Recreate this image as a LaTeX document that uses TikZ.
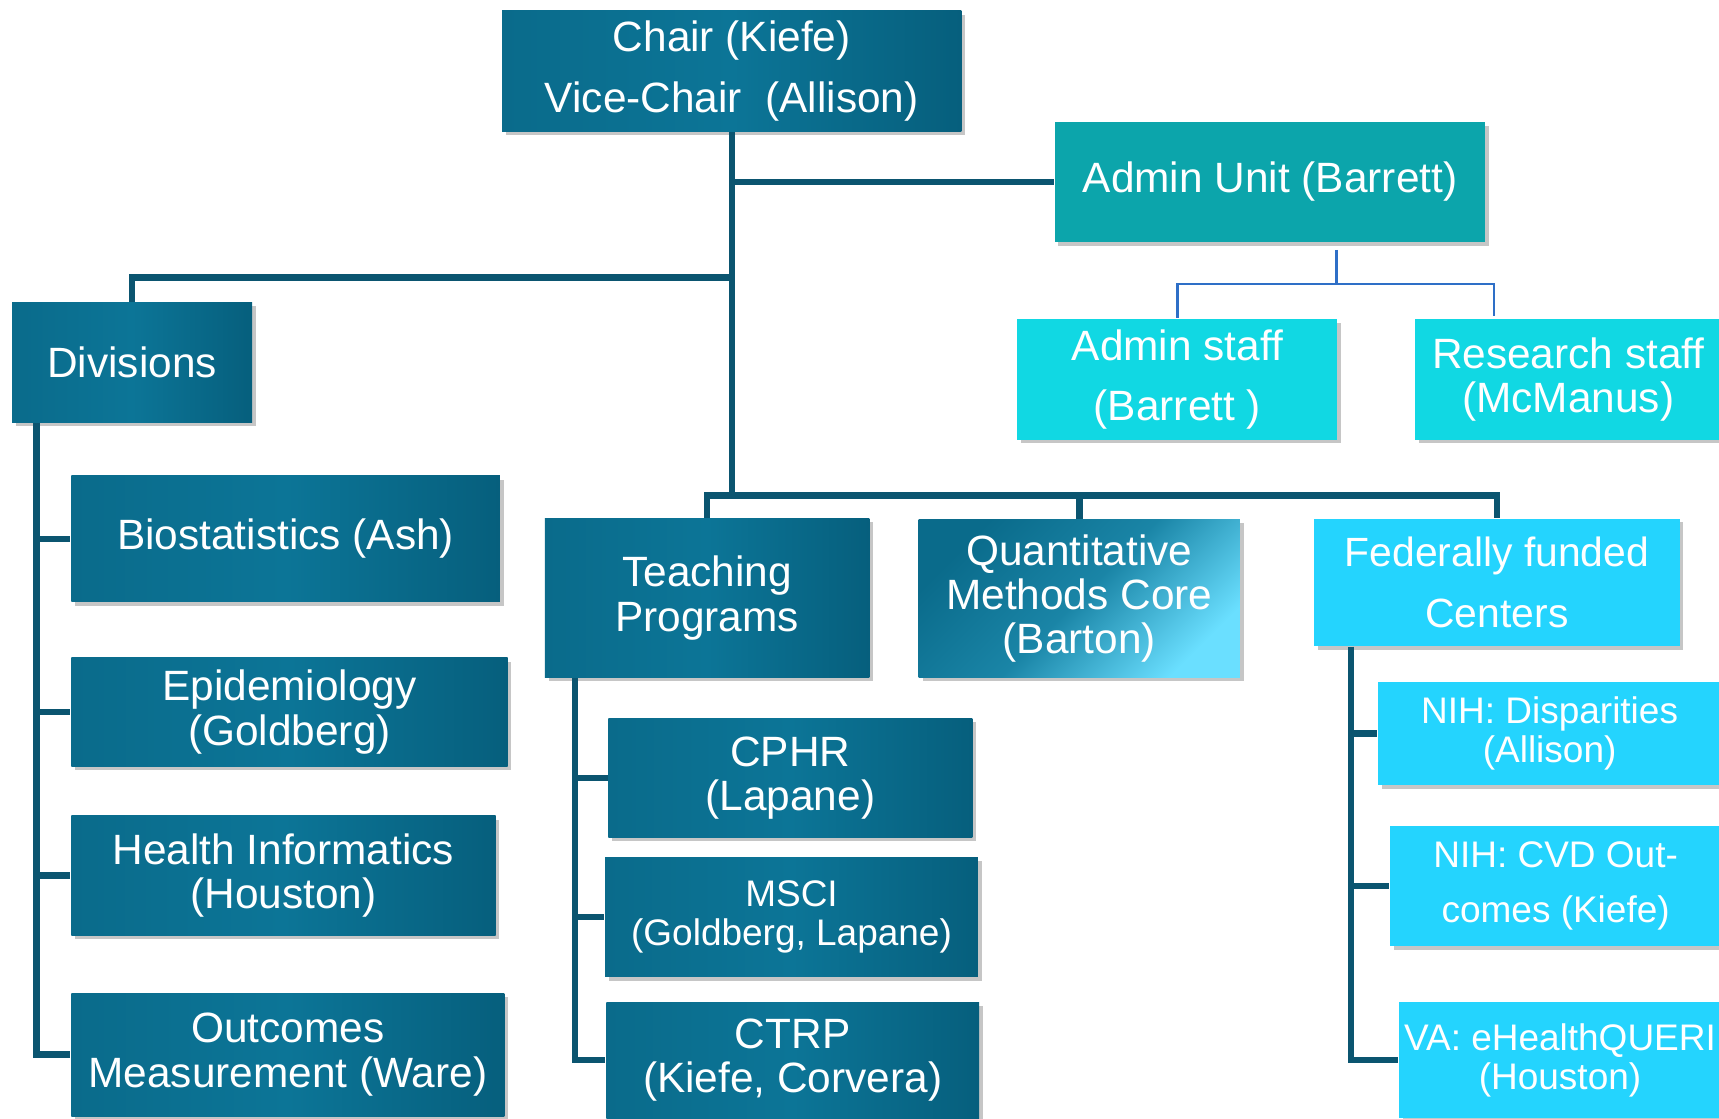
\documentclass[tikz,border=0pt]{standalone}
\usepackage{fontspec}
\setmainfont{Liberation Sans}
\usepackage{tikz}
\usetikzlibrary{shadows}

\definecolor{darkleft}{HTML}{0A6B8B}
\definecolor{darkmid}{HTML}{0C7597}
\definecolor{darkright}{HTML}{065F7D}
\definecolor{qmclight}{HTML}{6ADFFF}
\definecolor{tealfill}{HTML}{0CA5AB}
\definecolor{cyanfill}{HTML}{11D8E3}
\definecolor{skyfill}{HTML}{24D4FE}
\definecolor{linkcol}{HTML}{0B5570}
\definecolor{thincol}{HTML}{2E6FC7}

\begin{document}
\begin{tikzpicture}[x=0.1mm, y=-0.1mm,
  orgbox/.style={rectangle, align=center, text=white,
    font=\fontsize{11}{11.5}\selectfont,
    drop shadow={shadow xshift=0.35mm, shadow yshift=-0.35mm, opacity=0.45}},
  darkbox/.style={orgbox, left color=darkleft, right color=darkright, middle color=darkmid},
  qmcbox/.style={orgbox, left color=darkleft, right color=qmclight, middle color=darkmid!85!qmclight, shading angle=45},
  tealbox/.style={orgbox, fill=tealfill},
  cyanbox/.style={orgbox, fill=cyanfill},
  skybox/.style={orgbox, fill=skyfill},
  smalltext/.style={font=\fontsize{9.6}{10.2}\selectfont},
  link/.style={draw=linkcol, line width=1.7pt},
  thinlink/.style={draw=thincol, line width=0.6pt}]
\tikzstyle{every node}+=[inner sep=0pt]
\useasboundingbox (0,0) rectangle (1568,1020);
% top
\node [darkbox, minimum width=41.9mm, minimum height=11mm, font=\fontsize{11}{15.7}\selectfont] (chair) at (667.5,65) {Chair (Kiefe)\\Vice-Chair~~(Allison)};
\node [tealbox, minimum width=39.3mm, minimum height=11mm] (adminunit) at (1158.5,166) {Admin Unit (Barrett)};
\node [cyanbox, minimum width=29.2mm, minimum height=11mm, font=\fontsize{11}{15.6}\selectfont] (adminstaff) at (1074,346) {Admin staff\\(Barrett\ )};
\node [cyanbox, minimum width=27.9mm, minimum height=11mm] (researchstaff) at (1430.5,346) {Research staff\\(McManus)};
% divisions
\node [darkbox, minimum width=21.9mm, minimum height=10.9mm] (divisions) at (120.5,330.5) {Divisions};
\node [darkbox, minimum width=39.1mm, minimum height=11.5mm] (biostat) at (260.5,491.5) {Biostatistics (Ash)};
\node [darkbox, minimum width=39.8mm, minimum height=9.9mm] (epid) at (264,649.5) {Epidemiology\\(Goldberg)};
\node [darkbox, minimum width=38.7mm, minimum height=10.9mm] (healthinf) at (258.5,798.5) {Health Informatics\\(Houston)};
\node [darkbox, minimum width=39.5mm, minimum height=11.2mm] (outcomes) at (262.5,962) {Outcomes\\Measurement (Ware)};
% middle row
\node [darkbox, minimum width=29.6mm, minimum height=14.5mm] (teaching) at (645,545.5) {Teaching\\Programs};
\node [qmcbox, minimum width=29.3mm, minimum height=14.4mm] (qmc) at (984.5,546) {Quantitative\\Methods Core\\(Barton)};
\node [skybox, minimum width=33.3mm, minimum height=11.6mm, font=\fontsize{10.6}{15.9}\selectfont] (federal) at (1365.5,531) {Federally funded\\Centers};
% teaching programs
\node [darkbox, minimum width=33.2mm, minimum height=10.9mm] (cphr) at (721,709.5) {CPHR\\(Lapane)};
\node [darkbox, smalltext, minimum width=34mm, minimum height=10.9mm] (msci) at (722,836.5) {MSCI\\(Goldberg, Lapane)};
\node [darkbox, minimum width=34mm, minimum height=10.6mm] (ctrp) at (723,967) {CTRP\\(Kiefe, Corvera)};
% centers
\node [skybox, smalltext, minimum width=31.3mm, minimum height=9.4mm] (nihdisp) at (1413.5,669) {NIH: Disparities\\(Allison)};
\node [skybox, minimum width=30.2mm, minimum height=11mm, font=\fontsize{9.6}{14.2}\selectfont] (nihcvd) at (1419,808) {NIH: CVD Out-\\comes (Kiefe)};
\node [skybox, smalltext, minimum width=29.4mm, minimum height=10.6mm] (va) at (1423,967) {VA: eHealthQUERI\\(Houston)};
% trunk and branches
\coordinate (hub) at (667.5,452);
\coordinate (divsplit) at (667.5,253);
\draw [link] (chair.south) -- (hub);
\draw [link] (chair.south |- adminunit.west) -- (adminunit.west);
\draw [link] (divsplit) -| (divisions.north);
\draw [link] (teaching.north) |- (hub) -| (federal.north);
\draw [link] (qmc.north) -- (qmc.north |- hub);
% admin unit
\coordinate (aujoin) at (1219,228);
\coordinate (aubar) at (1219,259);
\coordinate (rsjoin) at (1363,288);
\draw [thinlink] (aujoin) -- (aubar) -| (adminstaff.north);
\draw [thinlink] (aubar) -| (rsjoin);
% spines
\coordinate (divspine) at ([xshift=2.3mm]divisions.south west);
\draw [link] (divspine) |- (outcomes.west);
\draw [link] (divspine |- biostat.west) -- (biostat.west);
\draw [link] (divspine |- epid.west) -- (epid.west);
\draw [link] (divspine |- healthinf.west) -- (healthinf.west);
\coordinate (teachspine) at ([xshift=2.8mm]teaching.south west);
\draw [link] (teachspine) |- (ctrp.west);
\draw [link] (teachspine |- cphr.west) -- (cphr.west);
\draw [link] (teachspine |- msci.west) -- (msci.west);
\coordinate (fedspine) at ([xshift=3.4mm]federal.south west);
\draw [link] (fedspine) |- (va.west);
\draw [link] (fedspine |- nihdisp.west) -- (nihdisp.west);
\draw [link] (fedspine |- nihcvd.west) -- (nihcvd.west);
\end{tikzpicture}
\end{document}
